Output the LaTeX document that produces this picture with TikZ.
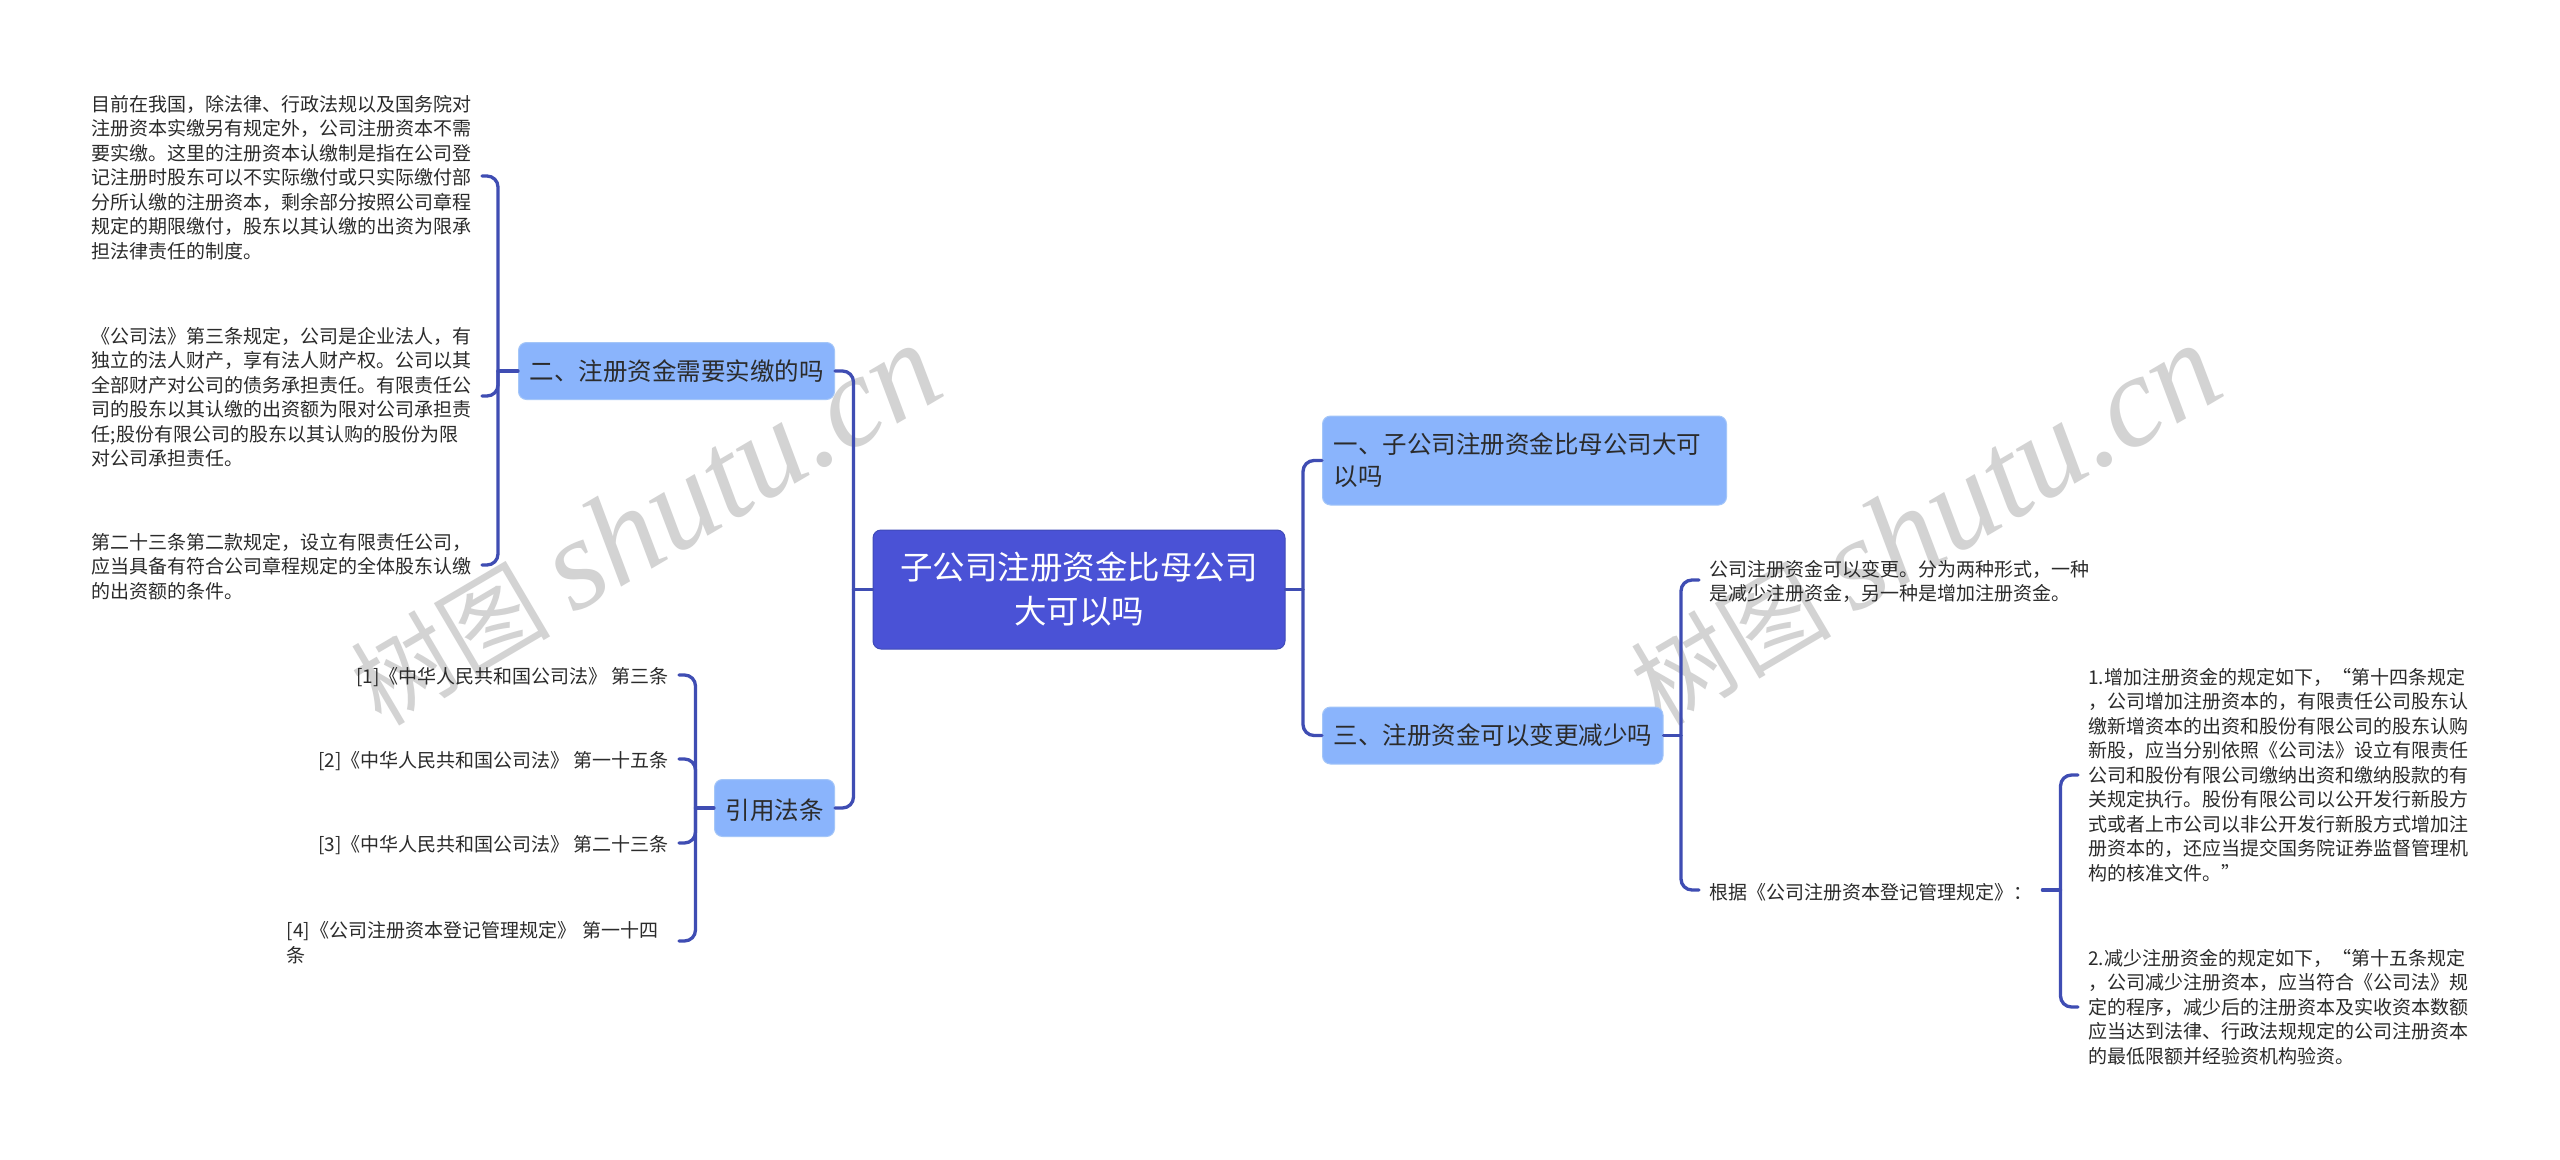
\documentclass[tikz,border=0pt]{standalone}
\usepackage{fontspec}
\setmainfont{Noto Sans CJK SC}
\newfontfamily\wmcjk[AutoFakeSlant=0.25]{Noto Sans CJK SC}
\newfontfamily\wmlat{Liberation Serif}
\definecolor{linkc}{HTML}{3F4DB3}
\definecolor{rootc}{HTML}{4A52D6}
\definecolor{rootb}{HTML}{3F4AB8}
\definecolor{subc}{HTML}{8AB4FC}
\definecolor{subb}{HTML}{A4C6F8}
\definecolor{txtc}{HTML}{2B2B2B}
\definecolor{wmc}{HTML}{D3D3D3}
\newcommand\lowone{\rule{0pt}{21bp}}
\newcommand\lowmany{\rule{0pt}{19bp}}
\tikzset{
  x=1bp,y=-1bp,
  conn/.style={draw=linkc,line width=3.3bp,rounded corners=11bp,line cap=round},
  rootbox/.style={draw=rootb,line width=1bp,fill=rootc,rounded corners=8bp,text=white,align=center,
    inner sep=0pt,minimum width=412bp,minimum height=119bp,
    font=\fontsize{32.5bp}{44bp}\selectfont},
  subbox/.style={draw=subb,line width=1bp,fill=subc,rounded corners=8bp,text=txtc,align=left,
    inner xsep=11bp,inner ysep=0pt,font=\fontsize{24.5bp}{32bp}\selectfont},
  leaf/.style={text=txtc,align=left,inner xsep=10bp,inner ysep=0pt,
    font=\fontsize{19bp}{24.5bp}\selectfont},
  wm/.style={text=wmc,rotate=30.5,inner sep=0pt},
}
\begin{document}
\begin{tikzpicture}
\useasboundingbox (0,0) rectangle (2560,1159);
\fill[white] (0,0) rectangle (2560,1159);
% watermarks
\node[wm] (wma) at (645,525) {\fontsize{100bp}{100bp}\selectfont\wmcjk 树图 \fontsize{130bp}{130bp}\selectfont\wmlat\itshape shutu.cn};
\node[wm] (wmb) at (1925,525) {\fontsize{100bp}{100bp}\selectfont\wmcjk 树图 \fontsize{130bp}{130bp}\selectfont\wmlat\itshape shutu.cn};
% root and main topics
\node[rootbox] (root) at (1079,589.5) {子公司注册资金比母公司\\大可以吗};
\node[subbox,anchor=west,minimum height=57bp] (b2) at (518,371) {二、注册资金需要实缴的吗};
\node[subbox,anchor=west,minimum height=57bp] (bref) at (714,808) {\rule{0pt}{25bp}引用法条};
\node[subbox,anchor=west,minimum height=89bp,text width=382bp] (b1) at (1322,460.5) {一、子公司注册资金比母公司大可\\以吗};
\node[subbox,anchor=west,minimum height=57bp] (b3) at (1322,735.5) {三、注册资金可以变更减少吗};
% left leaves
\node[leaf,anchor=east] (t1) at (482,176) {\lowmany 目前在我国，除法律、行政法规以及国务院对\\注册资本实缴另有规定外，公司注册资本不需\\要实缴。这里的注册资本认缴制是指在公司登\\记注册时股东可以不实际缴付或只实际缴付部\\分所认缴的注册资本，剩余部分按照公司章程\\规定的期限缴付，股东以其认缴的出资为限承\\担法律责任的制度。};
\node[leaf,anchor=east,text width=380bp] (t2) at (482,396) {\lowmany《公司法》第三条规定，公司是企业法人，有\\独立的法人财产，享有法人财产权。公司以其\\全部财产对公司的债务承担责任。有限责任公\\司的股东以其认缴的出资额为限对公司承担责\\任;股份有限公司的股东以其认购的股份为限\\对公司承担责任。};
\node[leaf,anchor=east,text width=380bp] (t3) at (482,565) {\lowmany 第二十三条第二款规定，设立有限责任公司，\\应当具备有符合公司章程规定的全体股东认缴\\的出资额的条件。};
% citations
\node[leaf,anchor=east] (c1) at (679,675) {\lowone [1]《中华人民共和国公司法》 第三条};
\node[leaf,anchor=east] (c2) at (679,759) {\lowone [2]《中华人民共和国公司法》 第一十五条};
\node[leaf,anchor=east] (c3) at (679,843) {\lowone [3]《中华人民共和国公司法》 第二十三条};
\node[leaf,anchor=east,text width=382bp] (c4) at (679,941) {\lowmany [4]《公司注册资本登记管理规定》 第一十四\\条};
% right leaves
\node[leaf,anchor=west,text width=382bp] (r1) at (1699,580) {\lowmany 公司注册资金可以变更。分为两种形式，一种\\是减少注册资金，另一种是增加注册资金。};
\node[leaf,anchor=west] (r2) at (1699,890) {\lowone 根据《公司注册资本登记管理规定》：};
\node[leaf,anchor=west,text width=382bp] (r3) at (2078,775) {1.增加注册资金的规定如下，“第十四条规定\\，公司增加注册资本的，有限责任公司股东认\\缴新增资本的出资和股份有限公司的股东认购\\新股，应当分别依照《公司法》设立有限责任\\公司和股份有限公司缴纳出资和缴纳股款的有\\关规定执行。股份有限公司以公开发行新股方\\式或者上市公司以非公开发行新股方式增加注\\册资本的，还应当提交国务院证券监督管理机\\构的核准文件。”};
\node[leaf,anchor=west,text width=382bp] (r4) at (2078,1007) {2.减少注册资金的规定如下，“第十五条规定\\，公司减少注册资本，应当符合《公司法》规\\定的程序，减少后的注册资本及实收资本数额\\应当达到法律、行政法规规定的公司注册资本\\的最低限额并经验资机构验资。};
% junctions
\coordinate (jl) at (853.5,589.5);
\coordinate (jr) at (1303,589.5);
\coordinate (j2) at (498,371);
\coordinate (jref) at (695.5,808);
\coordinate (j3) at (1681,735.5);
\coordinate (jr2) at (2060.5,890);
% connectors
\draw[conn] (b2.east) -| (jl);
\draw[conn] (bref.east) -| (jl);
\draw[conn] (jl) -- (root.west);
\draw[conn] (b1.west) -| (jr);
\draw[conn] (b3.west) -| (jr);
\draw[conn] (jr) -- (root.east);
\draw[conn] (t1.east) -| (j2);
\draw[conn] (t2.east) -| (j2);
\draw[conn] (t3.east) -| (j2);
\draw[conn] (j2) -- (b2.west);
\draw[conn] (c1.east) -| (jref);
\draw[conn] (c2.east) -| (jref);
\draw[conn] (c3.east) -| (jref);
\draw[conn] (c4.east) -| (jref);
\draw[conn] (jref) -- (bref.west);
\draw[conn] (r1.west) -| (j3);
\draw[conn] (r2.west) -| (j3);
\draw[conn] (j3) -- (b3.east);
\draw[conn] (r3.west) -| (jr2);
\draw[conn] (r4.west) -| (jr2);
\draw[conn] (jr2) -- (r2.east);
\end{tikzpicture}
\end{document}
